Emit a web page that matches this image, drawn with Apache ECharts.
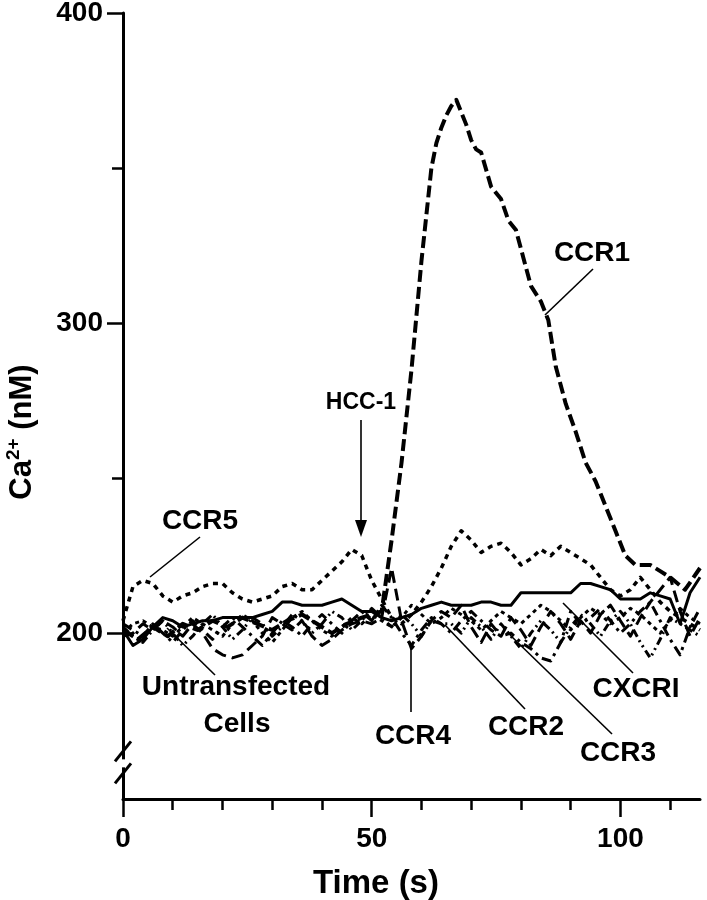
<!DOCTYPE html>
<html>
<head>
<meta charset="utf-8">
<script src="https://cdn.jsdelivr.net/npm/echarts@6/dist/echarts.min.js"></script>
<style>
  html, body { margin: 0; padding: 0; background: #fff; }
  #chart { width: 707px; height: 900px; }
</style>
</head>
<body>
<div id="chart"></div>
<script>
// time axis (s) shared by the baseline traces
var times = [0, 2, 4, 6, 8, 10, 12, 14, 16, 18, 20, 22, 24, 26, 28, 30, 32, 34, 36, 38,
  40, 42, 44, 46, 48, 50, 52, 54, 56, 58, 60, 62, 64, 66, 68, 70, 72, 74, 76, 78,
  80, 82, 84, 86, 88, 90, 92, 94, 96, 98, 100, 102, 104, 106, 108, 110, 112, 114, 116];

// CCR1 has its own sampling because of the peak
var ccr1Times = [0, 3, 6, 9, 12, 15, 18, 21, 24, 27, 30, 33, 36, 39, 42, 45, 48, 50, 52,
  54, 56, 58, 60, 61, 62, 63, 64, 65, 66, 67, 68, 69, 70, 71, 72, 74, 76, 77.5, 79, 80.5,
  82, 84, 85.5, 87, 89, 91, 93, 95, 96, 97, 99, 101, 103, 106, 108, 110, 113, 116];
var ccr1 = [201, 198, 202, 199, 203, 201, 204, 202, 205, 203, 201, 204, 206, 203, 200, 203, 205, 206, 207,
  230, 255, 285, 320, 335, 350, 358, 363, 367, 370, 372, 368, 364, 359, 356, 355, 344, 340, 333, 330, 321,
  312, 307, 301, 286, 274, 265, 255, 249, 245, 241, 233, 225, 222, 222, 220, 218, 214, 221];

var ccr5 = [204, 215, 217, 216, 212, 210, 212, 213, 215, 216, 216, 213, 211, 210, 211, 212, 215, 216, 214, 214,
  217, 220, 223, 227, 225, 217, 211, 205, 203, 206, 210, 215, 221, 228, 233, 230, 226, 228, 229, 226,
  222, 224, 227, 225, 228, 226, 224, 222, 218, 214, 212, 214, 218, 214, 210, 207, 205, 203, 201];

var cxcr1 = [201, 196, 198, 202, 205, 204, 202, 203, 204, 204, 205, 205, 205, 205, 206, 207, 210, 210, 209, 209,
  209, 210, 211, 209, 207, 207, 205, 204, 205, 206, 208, 209, 210, 209, 209, 209, 210, 210, 209, 209,
  213, 213, 213, 213, 213, 213, 216, 216, 215, 214, 211, 211, 211, 213, 212, 211, 203, 213, 218];

var untransfected = [200, 203, 204, 202, 201, 199, 202, 205, 203, 201, 199, 203, 206, 204, 200, 197, 201, 205, 207, 204,
  201, 199, 202, 205, 203, 206, 204, 202, 205, 209, 206, 203, 205, 208, 206, 204, 201, 204, 207, 205,
  203, 206, 209, 207, 204, 201, 205, 208, 206, 203, 205, 208, 206, 203, 200, 204, 208, 205, 203];

var ccr4 = [199, 200, 203, 201, 204, 202, 199, 203, 200, 195, 193, 192, 193, 196, 199, 205, 203, 201, 204, 199,
  196, 198, 201, 203, 204, 203, 205, 221, 204, 195, 199, 204, 207, 205, 209, 202, 197, 203, 199, 205,
  201, 196, 202, 207, 203, 198, 204, 200, 206, 209, 204, 199, 205, 210, 214, 218, 207, 199, 205];

var ccr2 = [202, 199, 197, 201, 204, 200, 196, 199, 203, 206, 202, 198, 201, 205, 203, 199, 202, 206, 204, 200,
  203, 207, 205, 201, 204, 208, 205, 202, 206, 203, 199, 204, 203, 203, 200, 205, 202, 198, 203, 199,
  195, 200, 204, 201, 197, 202, 206, 203, 199, 204, 207, 203, 197, 192, 198, 205, 203, 201, 199];

var ccr3 = [203, 201, 199, 203, 200, 197, 201, 204, 201, 198, 202, 205, 202, 199, 196, 200, 204, 202, 199, 203,
  206, 203, 200, 204, 207, 204, 209, 205, 200, 196, 201, 205, 203, 200, 204, 207, 204, 201, 199, 200,
  197, 195, 192, 191, 197, 207, 203, 205, 208, 204, 200, 203, 207, 210, 204, 198, 193, 202, 208];

var yMajorTicks = [200, 300, 400];
var yMinorTicks = [250, 350];
var xMajorTicks = [0, 50, 100];
var xMinorTicks = [10, 20, 30, 40, 60, 70, 80, 90, 110];

function pairs(xs, ys) {
  return ys.map(function (v, i) { return [xs[i], v]; });
}

var FONT = '"Liberation Sans", Arial, Helvetica, sans-serif';

var chart = echarts.init(document.getElementById('chart'), null, { renderer: 'canvas' });

function line(name, xs, ys, width, dash, z) {
  return {
    name: name,
    type: 'line',
    data: pairs(xs, ys),
    symbol: 'none',
    smooth: false,
    z: z,
    silent: true,
    lineStyle: { color: '#000', width: width, type: dash, cap: 'butt', join: 'round' }
  };
}

var option = {
  backgroundColor: '#fff',
  animation: false,
  grid: { left: 123, right: 7, top: 13, bottom: 101, outerBoundsMode: 'none', containLabel: false },
  xAxis: [{
    type: 'value',
    min: 0, max: 116,
    axisLine: { lineStyle: { color: '#000', width: 3 } },
    axisTick: { length: 18, lineStyle: { color: '#000', width: 2.5 }, customValues: xMajorTicks },
    axisLabel: { customValues: xMajorTicks, margin: 26, fontFamily: FONT, fontWeight: 'bold', fontSize: 28, color: '#000' },
    splitLine: { show: false }
  }, {
    type: 'value',
    position: 'bottom',
    min: 0, max: 116,
    axisLine: { show: false },
    axisTick: { length: 11, lineStyle: { color: '#000', width: 2.5 }, customValues: xMinorTicks },
    axisLabel: { show: false },
    splitLine: { show: false }
  }],
  yAxis: [{
    type: 'value',
    min: 146.5, max: 400,
    axisLine: { lineStyle: { color: '#000', width: 3 } },
    axisTick: { length: 16, lineStyle: { color: '#000', width: 2.5 }, customValues: yMajorTicks },
    axisLabel: { customValues: yMajorTicks, margin: 20, fontFamily: FONT, fontWeight: 'bold', fontSize: 28, color: '#000' },
    splitLine: { show: false }
  }, {
    type: 'value',
    position: 'left',
    min: 146.5, max: 400,
    axisLine: { show: false },
    axisTick: { length: 11, lineStyle: { color: '#000', width: 2.5 }, customValues: yMinorTicks },
    axisLabel: { show: false },
    splitLine: { show: false }
  }],
  series: [
    line('CCR3', times, ccr3, 3, [10, 5, 3, 5], 2),
    line('CCR2', times, ccr2, 3, [8, 4, 2, 4, 2, 4], 2),
    line('CCR4', times, ccr4, 3, [12, 6], 2),
    line('Untransfected Cells', times, untransfected, 3, [4, 4], 2),
    line('CXCRI', times, cxcr1, 3, 'solid', 3),
    line('CCR5', times, ccr5, 3.5, [5, 5], 3),
    line('CCR1', ccr1Times, ccr1, 4, [12, 5], 4)
  ]
};

chart.setOption(option);

// annotations: labels and leader lines (pixel layout)
function label(text, x, y, size) {
  return {
    type: 'text', x: x, y: y, z: 10,
    style: { text: text, fontFamily: FONT, fontWeight: 'bold', fontSize: size || 28, fill: '#000', align: 'center', verticalAlign: 'middle' }
  };
}
function leader(x1, y1, x2, y2) {
  return { type: 'line', z: 10, shape: { x1: x1, y1: y1, x2: x2, y2: y2 }, style: { stroke: '#000', lineWidth: 1.6 } };
}

// axis break marks on the y axis
var brk = chart.convertToPixel({ gridIndex: 0 }, [0, 158]);
var bx = brk[0], by = brk[1];

var graphics = [
  { type: 'rect', z: 20, shape: { x: bx - 4, y: by - 4, width: 8, height: 8 }, style: { fill: '#fff' } },
  { type: 'line', z: 21, shape: { x1: bx - 8, y1: by - 2, x2: bx + 8, y2: by - 22 }, style: { stroke: '#000', lineWidth: 3 } },
  { type: 'line', z: 21, shape: { x1: bx - 8, y1: by + 20, x2: bx + 8, y2: by } , style: { stroke: '#000', lineWidth: 3 } },

  // axis titles
  label('Time (s)', 376, 884, 33),
  {
    type: 'text', x: 22, y: 432, rotation: Math.PI / 2, z: 10,
    style: {
      text: '{a|Ca}{s|2+}{a| (nM)}', align: 'center', verticalAlign: 'middle',
      rich: {
        a: { fontFamily: FONT, fontWeight: 'bold', fontSize: 31, fill: '#000' },
        s: { fontFamily: FONT, fontWeight: 'bold', fontSize: 19, fill: '#000', padding: [0, 0, 16, 0] }
      }
    }
  },

  label('CCR5', 200, 521),
  leader(200, 537, 150, 577),
  label('HCC-1', 361, 403, 23),
  leader(361, 420, 361, 524),
  { type: 'polygon', z: 10, shape: { points: [[355, 520], [367, 520], [361, 537]] }, style: { fill: '#000' } },
  label('CCR1', 592, 253),
  leader(593, 269, 545, 315),
  label('Untransfected', 236, 687),
  label('Cells', 237, 724),
  leader(167, 628, 215, 675),
  leader(411, 647, 411, 712),
  label('CCR4', 413, 736),
  leader(445, 625, 525, 709),
  label('CCR2', 526, 727),
  leader(510, 635, 612, 734),
  label('CCR3', 618, 753),
  leader(563, 603, 633, 673),
  label('CXCRI', 636, 689)
];

chart.setOption({ graphic: graphics });
</script>
</body>
</html>
